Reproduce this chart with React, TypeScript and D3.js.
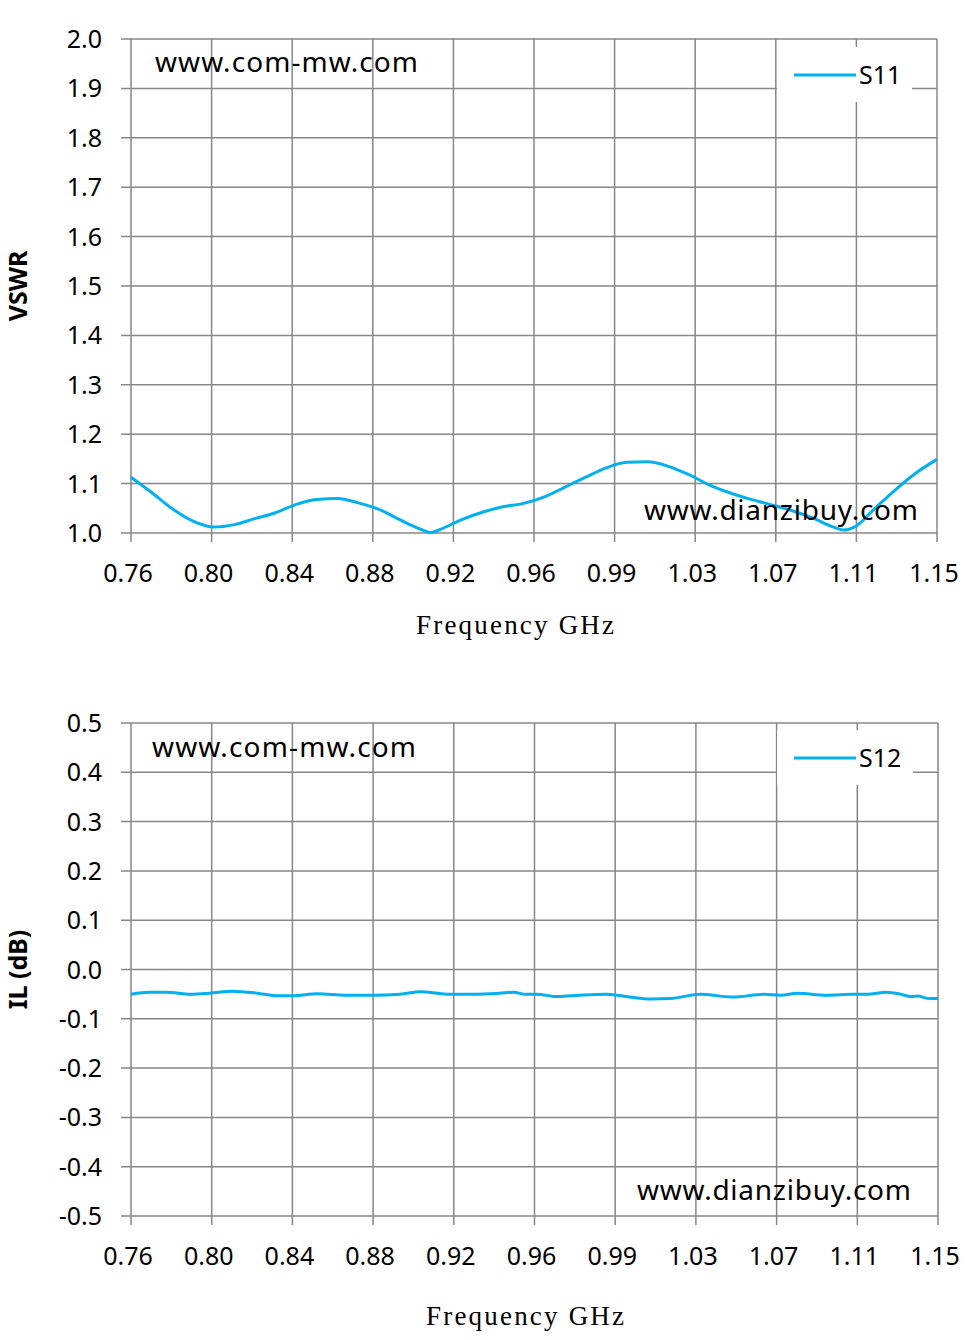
import React from "react";
import * as d3 from "d3";

// ---- data ----
const freqTickValues = d3.range(11).map((i) => 0.76 + i * 0.039);
const freqTickLabels = ["0.76", "0.80", "0.84", "0.88", "0.92", "0.96", "0.99", "1.03", "1.07", "1.11", "1.15"];

const vswrTicks = [1.0, 1.1, 1.2, 1.3, 1.4, 1.5, 1.6, 1.7, 1.8, 1.9, 2.0];
const ilTicks = [-0.5, -0.4, -0.3, -0.2, -0.1, 0.0, 0.1, 0.2, 0.3, 0.4, 0.5];

const s11Freq = [0.76, 0.77, 0.78, 0.79, 0.8, 0.81, 0.82, 0.83, 0.84, 0.85, 0.86, 0.87, 0.88, 0.89, 0.9, 0.905, 0.91, 0.92, 0.93, 0.94, 0.95, 0.96, 0.97, 0.98, 0.99, 1.0, 1.01, 1.02, 1.03, 1.04, 1.05, 1.06, 1.07, 1.08, 1.09, 1.1, 1.105, 1.11, 1.12, 1.13, 1.14, 1.15];
const s11Vswr = [1.113, 1.082, 1.049, 1.024, 1.012, 1.017, 1.029, 1.041, 1.058, 1.068, 1.07, 1.061, 1.048, 1.027, 1.008, 1.001, 1.008, 1.027, 1.042, 1.053, 1.06, 1.073, 1.093, 1.113, 1.132, 1.143, 1.144, 1.135, 1.118, 1.097, 1.081, 1.068, 1.057, 1.045, 1.03, 1.012, 1.006, 1.012, 1.05, 1.088, 1.122, 1.149];

const s12Freq = [0.76, 0.769, 0.777, 0.789, 0.798, 0.809, 0.821, 0.83, 0.838, 0.85, 0.864, 0.877, 0.89, 0.9, 0.914, 0.925, 0.938, 0.945, 0.95, 0.956, 0.966, 0.977, 0.99, 1.001, 1.011, 1.021, 1.027, 1.035, 1.051, 1.066, 1.074, 1.082, 1.096, 1.109, 1.116, 1.125, 1.132, 1.137, 1.14, 1.146, 1.15];
const s12Il = [-0.05, -0.046, -0.046, -0.05, -0.048, -0.044, -0.048, -0.053, -0.053, -0.049, -0.052, -0.052, -0.05, -0.045, -0.05, -0.05, -0.048, -0.046, -0.05, -0.05, -0.055, -0.052, -0.05, -0.056, -0.06, -0.059, -0.055, -0.05, -0.056, -0.05, -0.052, -0.048, -0.052, -0.05, -0.05, -0.046, -0.05, -0.055, -0.054, -0.059, -0.059];

const GRID = "#878787";
const LINE = "#00B0F0";
const SANS = "'Noto Sans', 'DejaVu Sans', sans-serif";
const SERIF = "'Liberation Serif', 'DejaVu Serif', serif";

type ChartProps = {
  top: number;
  bottom: number;
  left: number;
  right: number;
  yDomain: [number, number];
  yTicks: number[];
  xs: number[];
  ys: number[];
  yTitle: string;
  seriesName: string;
  legendBox: { x: number; y: number; w: number; h: number };
  wm1: { x: number; y: number; len: number };
  wm2: { x: number; y: number; len: number };
  xTitleX: number;
  xTitleY: number;
  xLabelY: number;
};

function Chart(p: ChartProps) {
  const x = d3.scaleLinear().domain([0.76, 1.15]).range([p.left, p.right]);
  const y = d3.scaleLinear().domain(p.yDomain).range([p.bottom, p.top]);
  const line = d3
    .line<number>()
    .x((_, i) => x(p.xs[i]))
    .y((d) => y(d))
    .curve(d3.curveMonotoneX);
  const midY = (p.top + p.bottom) / 2;
  const lb = p.legendBox;
  return (
    <g>
      {p.yTicks.map((t) => (
        <line key={"h" + t} x1={p.left - 10} x2={p.right} y1={y(t)} y2={y(t)} stroke={GRID} strokeWidth={1.5} />
      ))}
      {freqTickValues.map((t, i) => (
        <line key={"v" + i} x1={x(t)} x2={x(t)} y1={p.top} y2={p.bottom + 9} stroke={GRID} strokeWidth={1.5} />
      ))}
      {p.yTicks.map((t) => (
        <text key={"yl" + t} x={p.left - 29} y={y(t)} dy="0.36em" textAnchor="end" fontFamily={SANS} fontSize={25} fill="#000">
          {t.toFixed(1)}
        </text>
      ))}
      {freqTickValues.map((t, i) => (
        <text key={"xl" + i} x={x(t) - 3} y={p.xLabelY} dy="0.36em" textAnchor="middle" fontFamily={SANS} fontSize={25} fill="#000">
          {freqTickLabels[i]}
        </text>
      ))}
      <rect x={lb.x} y={lb.y} width={lb.w} height={lb.h} fill="#fff" />
      <line x1={lb.x + 17} x2={lb.x + 79} y1={lb.y + 28} y2={lb.y + 28} stroke={LINE} strokeWidth={3} />
      <text x={lb.x + 82} y={lb.y + 28} dy="0.36em" fontFamily={SANS} fontSize={25} fill="#000">
        {p.seriesName}
      </text>
      <path d={line(p.ys) || ""} fill="none" stroke={LINE} strokeWidth={3} />
      <text x={p.wm1.x} y={p.wm1.y} fontFamily={SANS} fontSize={28} fill="#000" textLength={p.wm1.len} lengthAdjust="spacing">
        www.com-mw.com
      </text>
      <text x={p.wm2.x} y={p.wm2.y} fontFamily={SANS} fontSize={28} fill="#000" textLength={p.wm2.len} lengthAdjust="spacing">
        www.dianzibuy.com
      </text>
      <text
        transform={`translate(18,${midY}) rotate(-90)`}
        textAnchor="middle"
        dy="0.35em"
        fontFamily={SANS}
        fontWeight="bold"
        fontSize={25}
        fill="#000"
      >
        {p.yTitle}
      </text>
      <text
        x={p.xTitleX}
        y={p.xTitleY}
        dy="0.35em"
        textAnchor="middle"
        fontFamily={SERIF}
        fontSize={27}
        fill="#000"
        textLength={198}
        lengthAdjust="spacing"
      >
        Frequency GHz
      </text>
    </g>
  );
}

export default function App() {
  return (
    <svg
      width={976}
      height={1340}
      viewBox="0 0 976 1340"
      style={{ position: "absolute", left: 0, top: 0, display: "block", background: "#fff" }}
    >
      <rect x={0} y={0} width={976} height={1340} fill="#fff" />
      <Chart
        top={39}
        bottom={533}
        left={131}
        right={937}
        yDomain={[1.0, 2.0]}
        yTicks={vswrTicks}
        xs={s11Freq}
        ys={s11Vswr}
        yTitle="VSWR"
        seriesName="S11"
        legendBox={{ x: 777, y: 47, w: 135, h: 55 }}
        wm1={{ x: 155, y: 72, len: 263 }}
        wm2={{ x: 644, y: 520, len: 274 }}
        xTitleX={515}
        xTitleY={625}
        xLabelY={573}
      />
      <Chart
        top={723}
        bottom={1216}
        left={131}
        right={938}
        yDomain={[-0.5, 0.5]}
        yTicks={ilTicks}
        xs={s12Freq}
        ys={s12Il}
        yTitle="IL (dB)"
        seriesName="S12"
        legendBox={{ x: 777, y: 730, w: 136, h: 55 }}
        wm1={{ x: 152, y: 757, len: 264 }}
        wm2={{ x: 637, y: 1200, len: 274 }}
        xTitleX={525}
        xTitleY={1316}
        xLabelY={1256}
      />
    </svg>
  );
}
